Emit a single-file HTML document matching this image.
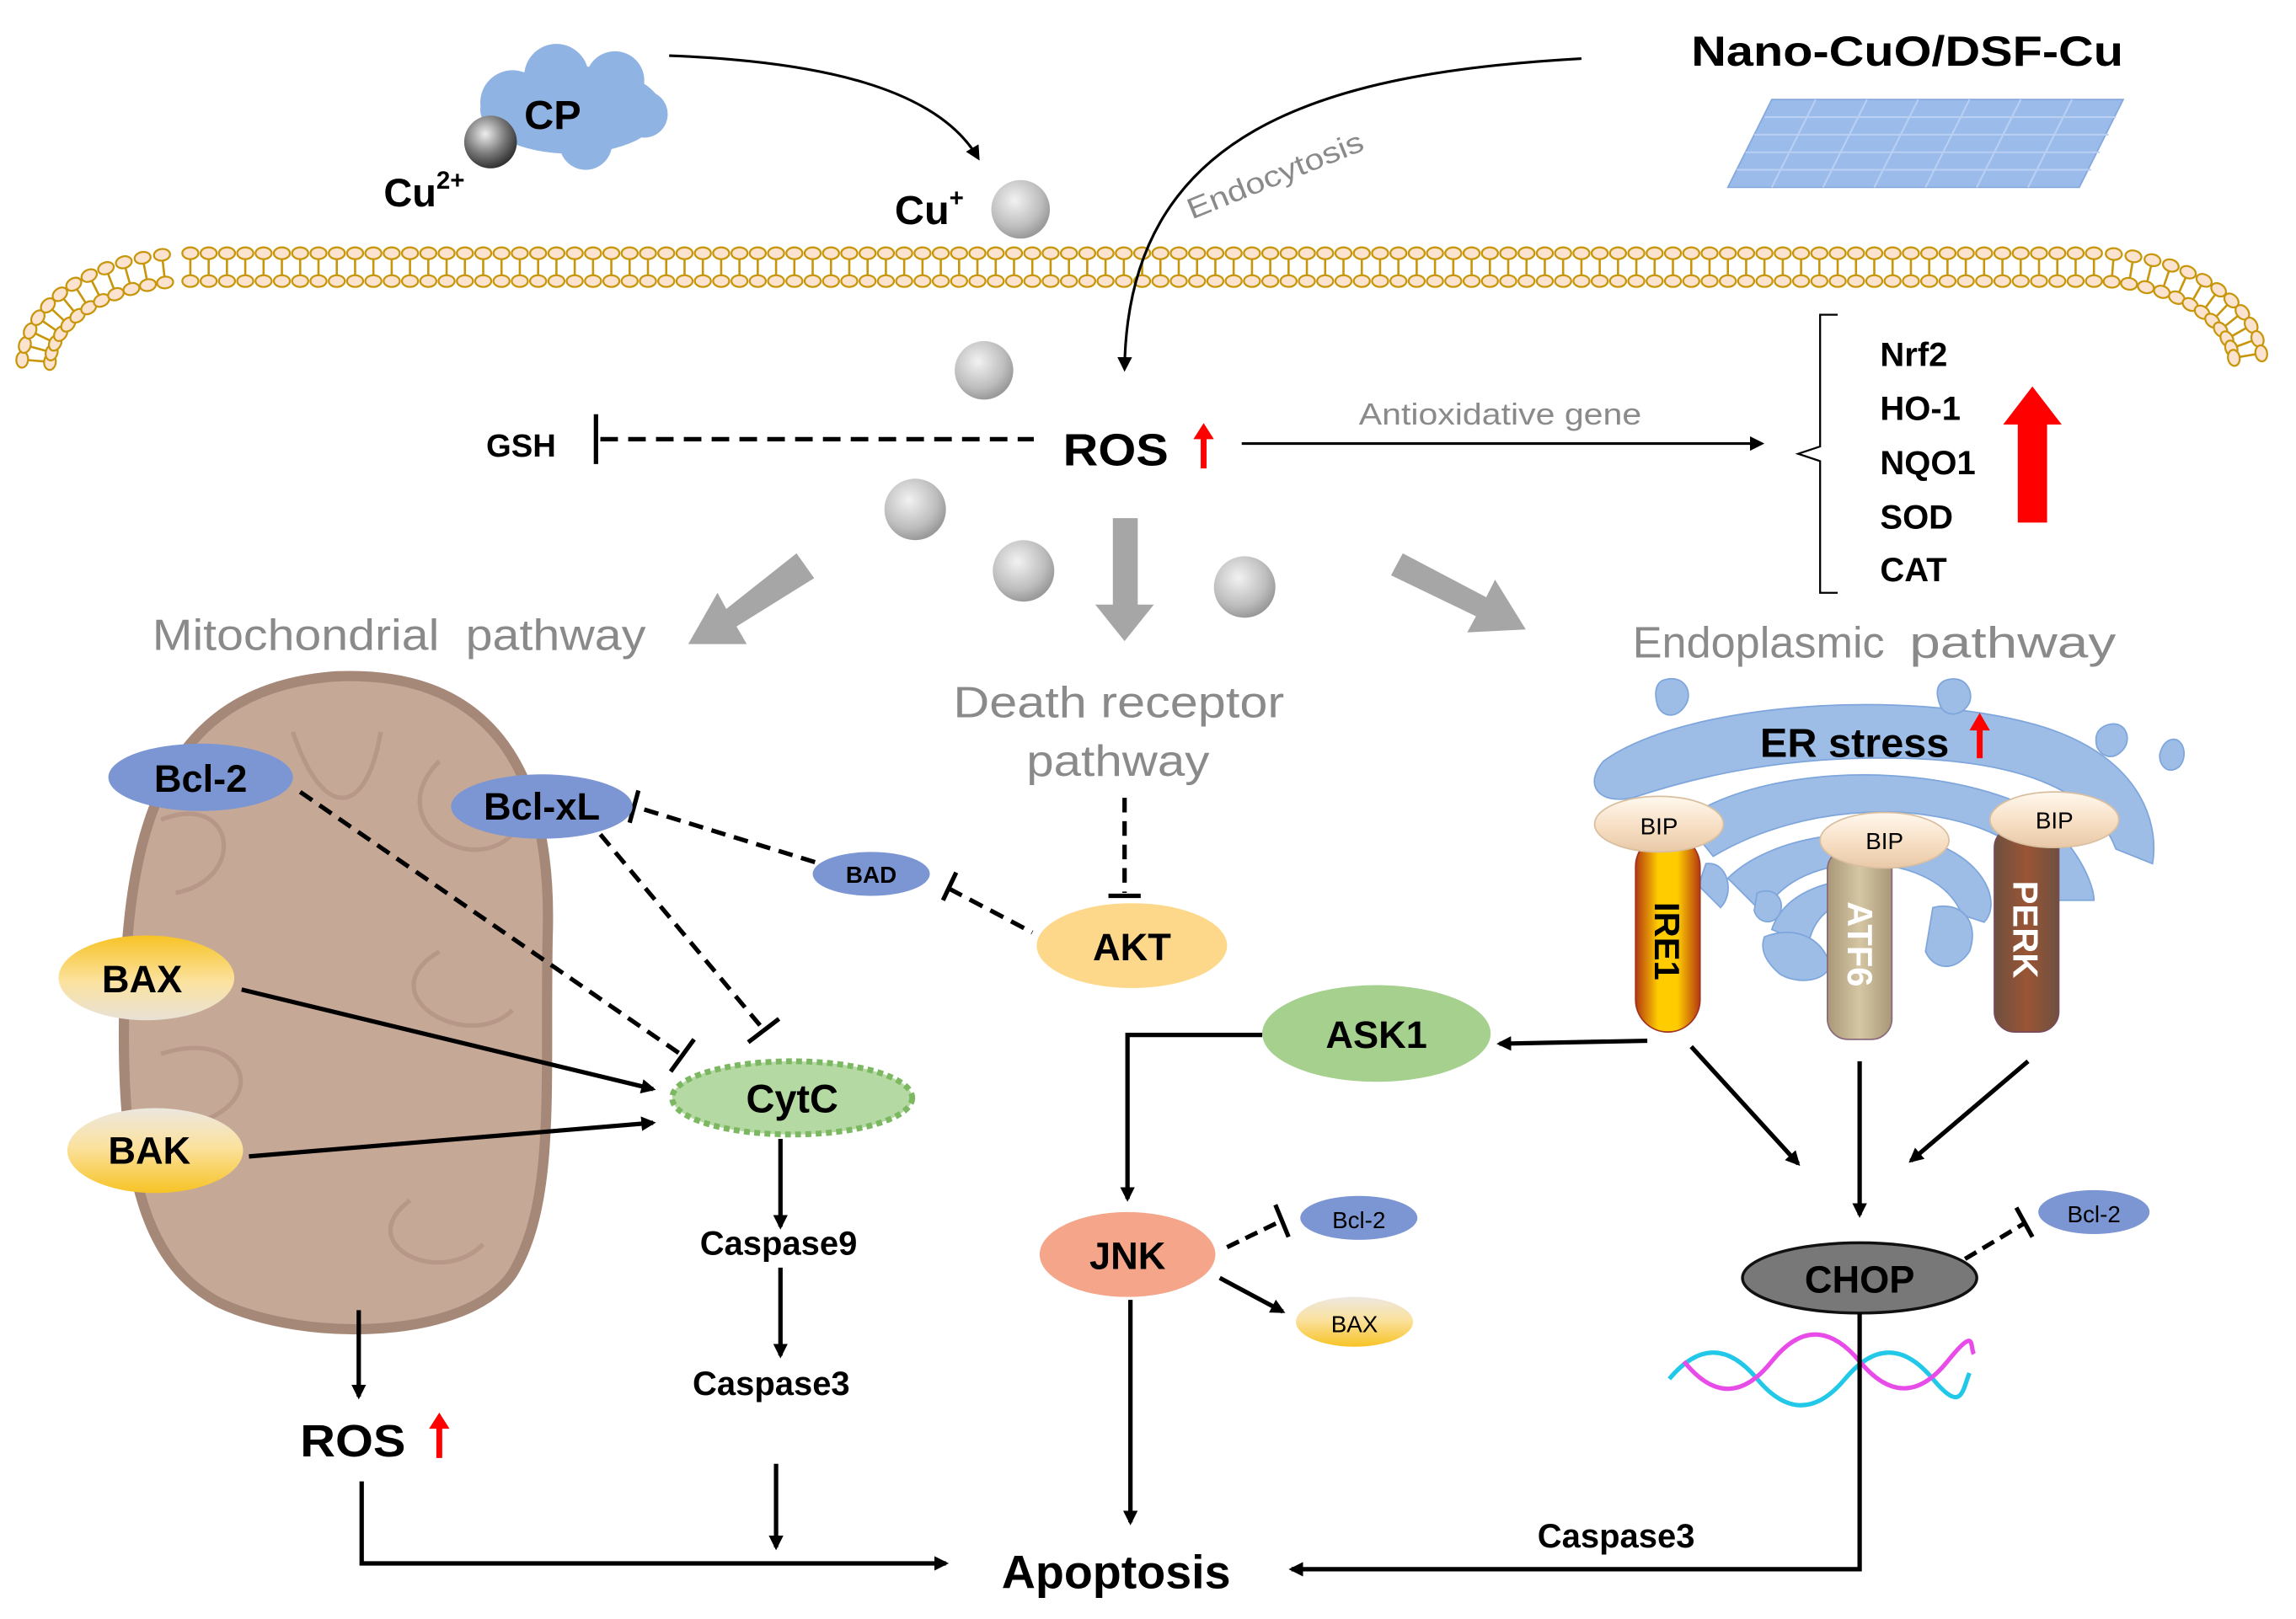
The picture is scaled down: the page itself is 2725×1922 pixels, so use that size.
<!DOCTYPE html>
<html><head><meta charset="utf-8"><style>
html,body{margin:0;padding:0;background:#fff;}
svg{display:block;}
text{font-family:"Liberation Sans",Arial,sans-serif;}
.b{font-weight:bold;fill:#000;}
.g{fill:#8a8a8a;}
</style></head><body>
<svg id="s" width="2725" height="1922" viewBox="0 0 1568 1106" preserveAspectRatio="none" xmlns="http://www.w3.org/2000/svg">
<defs>
<marker id="ah" markerWidth="10" markerHeight="10" refX="8" refY="5" orient="auto" markerUnits="userSpaceOnUse"><path d="M0,0 L10,5 L0,10 z" fill="#000"/></marker>
<radialGradient id="sph" cx="40%" cy="35%" r="65%"><stop offset="0" stop-color="#f2f2f2"/><stop offset="0.7" stop-color="#bdbdbd"/><stop offset="1" stop-color="#9a9a9a"/></radialGradient>
<radialGradient id="sph2" cx="40%" cy="35%" r="65%"><stop offset="0" stop-color="#eee"/><stop offset="0.6" stop-color="#777"/><stop offset="1" stop-color="#333"/></radialGradient>
<linearGradient id="yel" x1="0" y1="0" x2="0" y2="1"><stop offset="0" stop-color="#f7c325"/><stop offset="0.55" stop-color="#fbe2a0"/><stop offset="1" stop-color="#e8e1d6"/></linearGradient>
<linearGradient id="yel2" x1="0" y1="0" x2="0" y2="1"><stop offset="0" stop-color="#ece7df"/><stop offset="0.45" stop-color="#fbe2a0"/><stop offset="1" stop-color="#f7c325"/></linearGradient>
<linearGradient id="ire" x1="0" y1="0" x2="1" y2="0"><stop offset="0" stop-color="#b33a10"/><stop offset="0.35" stop-color="#ffcc00"/><stop offset="0.65" stop-color="#ffcc00"/><stop offset="1" stop-color="#b33a10"/></linearGradient>
<linearGradient id="atf" x1="0" y1="0" x2="1" y2="0"><stop offset="0" stop-color="#a89878"/><stop offset="0.5" stop-color="#d5c6a4"/><stop offset="1" stop-color="#a89878"/></linearGradient>
<linearGradient id="perk" x1="0" y1="0" x2="1" y2="0"><stop offset="0" stop-color="#6e5040"/><stop offset="0.5" stop-color="#9a5535"/><stop offset="1" stop-color="#6e5040"/></linearGradient>
<linearGradient id="bip" x1="0" y1="0" x2="0" y2="1"><stop offset="0" stop-color="#fff8ee"/><stop offset="0.6" stop-color="#f6dcc0"/><stop offset="1" stop-color="#e8c9a8"/></linearGradient>
</defs>
<g id="mem"></g>

<!-- CP cloud -->
<g fill="#8fb3e3">
<ellipse cx="390" cy="75" rx="62" ry="30"/><circle cx="350" cy="70" r="22"/><circle cx="380" cy="52" r="22"/><circle cx="420" cy="55" r="20"/><circle cx="440" cy="78" r="16"/><circle cx="400" cy="98" r="18"/>
</g>
<text x="358" y="88" class="b" font-size="28">CP</text>
<circle cx="335" cy="97" r="18" fill="url(#sph2)"/>
<text x="262" y="141" class="b" font-size="27">Cu<tspan font-size="17" dy="-12">2+</tspan></text>
<path d="M457,38 C560,42 640,60 668,108" fill="none" stroke="#000" stroke-width="1.8" marker-end="url(#ah)"/>
<text x="611" y="153" class="b" font-size="28">Cu<tspan font-size="17" dy="-12">+</tspan></text>
<circle cx="697" cy="143" r="20" fill="url(#sph)"/>
<text x="1155" y="45" class="b" font-size="29" textLength="295" lengthAdjust="spacingAndGlyphs">Nano-CuO/DSF-Cu</text>
<g fill="#8ab0e8" stroke="#6f98d8" stroke-width="1">
<path d="M1210,68 L1450,68 L1420,128 L1180,128 Z" opacity="0.85"/>
</g>
<g stroke="#b9d0f3" stroke-width="1.2" fill="none">
<path d="M1205,80 L1445,80 M1198,92 L1440,92 M1192,104 L1434,104 M1186,116 L1428,116"/>
<path d="M1240,68 L1210,128 M1275,68 L1245,128 M1310,68 L1280,128 M1345,68 L1315,128 M1380,68 L1350,128 M1415,68 L1385,128"/>
</g>
<path d="M1080,40 C900,50 770,90 768,252" fill="none" stroke="#000" stroke-width="1.8" marker-end="url(#ah)"/>
<text x="814" y="150" class="g" font-size="20" transform="rotate(-22 814 150)" textLength="128" lengthAdjust="spacingAndGlyphs">Endocytosis</text>

<circle cx="672" cy="253" r="20" fill="url(#sph)"/>
<circle cx="625" cy="348" r="21" fill="url(#sph)"/>
<circle cx="699" cy="390" r="21" fill="url(#sph)"/>
<circle cx="850" cy="401" r="21" fill="url(#sph)"/>

<text x="332" y="312" class="b" font-size="22">GSH</text>
<line x1="407" y1="283" x2="407" y2="317" stroke="#000" stroke-width="3"/>
<line x1="410" y1="300" x2="706" y2="300" stroke="#000" stroke-width="3" stroke-dasharray="12,7"/>
<text x="726" y="318" class="b" font-size="31" textLength="72" lengthAdjust="spacingAndGlyphs">ROS</text>
<path d="M822,320 L822,298" stroke="#f00" stroke-width="4"/><path d="M815,300 L822,289 L829,300 Z" fill="#f00"/>
<line x1="848" y1="303" x2="1203" y2="303" stroke="#000" stroke-width="1.8" marker-end="url(#ah)"/>
<text x="928" y="290" class="g" font-size="21" textLength="193" lengthAdjust="spacingAndGlyphs">Antioxidative gene</text>
<path d="M1255,215 L1243,215 L1243,305 L1228,310 L1243,315 L1243,405 L1255,405" fill="none" stroke="#000" stroke-width="1.3"/>
<g class="b" font-size="23"><text x="1284" y="250" class="b">Nrf2</text><text x="1284" y="287" class="b">HO-1</text><text x="1284" y="324" class="b">NQO1</text><text x="1284" y="361" class="b">SOD</text><text x="1284" y="397" class="b">CAT</text></g>
<path d="M1378,357 L1398,357 L1398,290 L1408,290 L1388,264 L1368,290 L1378,290 Z" fill="#f00"/>

<!-- big gray arrows -->
<g fill="#a6a6a6">
<path d="M544,378 L556,395 L503,428 L510,440 L470,440 L490,405 L496,416 Z"/>
<path d="M760,354 L777,354 L777,413 L788,413 L768,438 L748,413 L760,413 Z"/>
<path d="M950,393 L958,378 L1015,408 L1021,396 L1042,430 L1002,432 L1008,421 Z"/>
</g>
<text x="104" y="444" class="g" font-size="30" textLength="196" lengthAdjust="spacingAndGlyphs">Mitochondrial</text><text x="318" y="444" class="g" font-size="30" textLength="123" lengthAdjust="spacingAndGlyphs">pathway</text>
<text x="651" y="490" class="g" font-size="30" textLength="226" lengthAdjust="spacingAndGlyphs">Death receptor</text>
<text x="701" y="530" class="g" font-size="30" textLength="125" lengthAdjust="spacingAndGlyphs">pathway</text>
<text x="1115" y="449" class="g" font-size="30" textLength="172" lengthAdjust="spacingAndGlyphs">Endoplasmic</text><text x="1304" y="449" class="g" font-size="30" textLength="141" lengthAdjust="spacingAndGlyphs">pathway</text>

<!-- mitochondrion -->
<path d="M230,462 C330,458 378,520 374,640 C372,740 380,820 350,870 C320,915 210,918 150,890 C95,862 82,790 85,680 C88,570 110,470 230,462 Z" fill="#c6a897" stroke="#a58878" stroke-width="7"/>
<g fill="none" stroke="#b09080" stroke-width="3" opacity="0.7">
<path d="M110,560 C160,540 170,600 120,610 M110,720 C170,700 190,760 120,770 M300,520 C260,560 320,600 350,570 M300,650 C250,680 320,720 350,690 M280,820 C240,850 300,880 330,850 M200,500 C220,560 250,560 260,500"/>
</g>
<line x1="205" y1="541" x2="466" y2="721" stroke="#000" stroke-width="3" stroke-dasharray="10,6"/>
<line x1="458" y1="732" x2="474" y2="710" stroke="#000" stroke-width="3"/>
<line x1="410" y1="570" x2="522" y2="704" stroke="#000" stroke-width="3" stroke-dasharray="10,6"/>
<line x1="511" y1="712" x2="532" y2="696" stroke="#000" stroke-width="3"/>
<line x1="440" y1="553" x2="560" y2="590" stroke="#000" stroke-width="3" stroke-dasharray="10,6"/>
<line x1="436" y1="540" x2="430" y2="562" stroke="#000" stroke-width="3"/>
<line x1="648" y1="607" x2="705" y2="637" stroke="#000" stroke-width="3" stroke-dasharray="10,6"/>
<line x1="653" y1="596" x2="644" y2="615" stroke="#000" stroke-width="3"/>
<line x1="768" y1="545" x2="768" y2="610" stroke="#000" stroke-width="3" stroke-dasharray="10,6"/>
<line x1="757" y1="612" x2="779" y2="612" stroke="#000" stroke-width="3"/>
<line x1="165" y1="676" x2="446" y2="744" stroke="#000" stroke-width="3" marker-end="url(#ah)"/>
<line x1="170" y1="790" x2="446" y2="767" stroke="#000" stroke-width="3" marker-end="url(#ah)"/>

<ellipse cx="137" cy="531" rx="63" ry="23" fill="#7b96d3"/><text x="137" y="541" text-anchor="middle" class="b" font-size="26">Bcl-2</text>
<ellipse cx="370" cy="551" rx="62" ry="22" fill="#7b96d3"/><text x="370" y="560" text-anchor="middle" class="b" font-size="26">Bcl-xL</text>
<ellipse cx="100" cy="668" rx="60" ry="29" fill="url(#yel)"/><text x="97" y="678" text-anchor="middle" class="b" font-size="26">BAX</text>
<ellipse cx="106" cy="786" rx="60" ry="29" fill="url(#yel2)"/><text x="102" y="795" text-anchor="middle" class="b" font-size="26">BAK</text>
<ellipse cx="595" cy="597" rx="40" ry="15" fill="#7b96d3"/><text x="595" y="603" text-anchor="middle" class="b" font-size="16">BAD</text>
<ellipse cx="773" cy="646" rx="65" ry="29" fill="#fdd88a"/><text x="773" y="656" text-anchor="middle" class="b" font-size="26">AKT</text>
<ellipse cx="541" cy="750" rx="82" ry="25" fill="#b5d9a2" stroke="#7cb862" stroke-width="4" stroke-dasharray="4,3"/><text x="541" y="760" text-anchor="middle" class="b" font-size="27">CytC</text>

<line x1="533" y1="778" x2="533" y2="838" stroke="#000" stroke-width="3" marker-end="url(#ah)"/>
<text x="478" y="857" class="b" font-size="23">Caspase9</text>
<line x1="533" y1="866" x2="533" y2="926" stroke="#000" stroke-width="3" marker-end="url(#ah)"/>
<text x="473" y="953" class="b" font-size="23">Caspase3</text>
<line x1="530" y1="1000" x2="530" y2="1057" stroke="#000" stroke-width="3" marker-end="url(#ah)"/>
<line x1="245" y1="895" x2="245" y2="954" stroke="#000" stroke-width="3" marker-end="url(#ah)"/>
<text x="205" y="995" class="b" font-size="31" textLength="72" lengthAdjust="spacingAndGlyphs">ROS</text>
<path d="M300,996 L300,974" stroke="#f00" stroke-width="4"/><path d="M293,976 L300,965 L307,976 Z" fill="#f00"/>
<path d="M247,1012 L247,1068 L646,1068" fill="none" stroke="#000" stroke-width="3" marker-end="url(#ah)"/>
<text x="684" y="1085" class="b" font-size="32">Apoptosis</text>

<!-- ER -->
<g fill="#9dbde6" stroke="#7ea6dc" stroke-width="1">
<path d="M1095,520 C1150,480 1300,470 1390,495 C1460,515 1475,560 1470,590 L1445,580 C1430,540 1380,520 1300,518 C1220,516 1160,530 1115,545 C1090,550 1082,535 1095,520 Z"/>
<path d="M1150,560 C1200,525 1300,520 1370,545 C1410,560 1430,600 1430,615 L1405,615 C1390,580 1360,560 1300,555 C1240,552 1195,570 1170,585 Z"/>
<path d="M1180,600 C1210,570 1280,560 1330,580 C1360,595 1365,620 1355,630 L1340,625 C1330,600 1300,590 1270,590 C1230,592 1210,610 1205,625 Z"/>
<path d="M1210,635 C1220,605 1260,598 1290,600 L1285,615 C1260,612 1240,620 1235,645 Z"/>
<path d="M1135,465 C1148,460 1156,470 1152,480 C1146,492 1135,490 1132,482 C1130,475 1130,468 1135,465 Z"/>
<path d="M1328,465 C1342,460 1348,472 1345,480 C1340,490 1328,490 1325,482 C1322,474 1322,468 1328,465 Z"/>
<path d="M1440,495 C1452,492 1456,505 1450,512 C1443,520 1435,517 1432,510 C1430,502 1433,497 1440,495 Z"/>
<path d="M1485,505 C1492,506 1494,518 1488,524 C1480,530 1474,522 1475,515 C1477,508 1480,505 1485,505 Z"/>
<path d="M1165,590 C1180,588 1185,610 1175,620 L1160,605 Z"/>
<path d="M1200,610 C1212,605 1220,615 1215,625 C1210,633 1200,630 1198,622 Z"/>
<path d="M1205,640 C1225,632 1245,640 1250,660 C1245,672 1225,672 1215,665 C1205,656 1202,648 1205,640 Z"/>
<path d="M1320,620 C1340,615 1352,630 1345,650 C1335,665 1320,662 1315,650 Z"/>
</g>
<text x="1202" y="517" class="b" font-size="28">ER stress</text>
<path d="M1352,518 L1352,497" stroke="#f00" stroke-width="4"/><path d="M1345,499 L1352,487 L1359,499 Z" fill="#f00"/>

<rect x="1117" y="570" width="44" height="135" rx="22" fill="url(#ire)" stroke="#a03020"/>
<rect x="1248" y="580" width="44" height="130" rx="14" fill="url(#atf)" stroke="#8a6a7a"/>
<rect x="1362" y="565" width="44" height="140" rx="14" fill="url(#perk)" stroke="#7a4a5a"/>
<text x="1130" y="643" class="b" font-size="24" transform="rotate(90 1130 643)" text-anchor="middle">IRE1</text>
<text x="1262" y="645" font-weight="bold" fill="#fff" font-size="24" transform="rotate(90 1262 645)" text-anchor="middle">ATF6</text>
<text x="1375" y="635" font-weight="bold" fill="#fff" font-size="24" transform="rotate(90 1375 635)" text-anchor="middle">PERK</text>
<ellipse cx="1133" cy="563" rx="44" ry="19" fill="url(#bip)" stroke="#d9bfa0"/><text x="1133" y="570" text-anchor="middle" font-size="16" fill="#000">BIP</text>
<ellipse cx="1287" cy="574" rx="44" ry="19" fill="url(#bip)" stroke="#d9bfa0"/><text x="1287" y="580" text-anchor="middle" font-size="16" fill="#000">BIP</text>
<ellipse cx="1403" cy="560" rx="44" ry="19" fill="url(#bip)" stroke="#d9bfa0"/><text x="1403" y="566" text-anchor="middle" font-size="16" fill="#000">BIP</text>

<line x1="1125" y1="711" x2="1024" y2="713" stroke="#000" stroke-width="3" marker-end="url(#ah)"/>
<ellipse cx="940" cy="706" rx="78" ry="33" fill="#a5d08d"/><text x="940" y="716" text-anchor="middle" class="b" font-size="26">ASK1</text>
<path d="M862,707 L770,707 L770,819" fill="none" stroke="#000" stroke-width="3" marker-end="url(#ah)"/>
<ellipse cx="770" cy="857" rx="60" ry="29" fill="#f4a58a"/><text x="770" y="867" text-anchor="middle" class="b" font-size="26">JNK</text>
<line x1="838" y1="852" x2="875" y2="834" stroke="#000" stroke-width="3" stroke-dasharray="9,5"/>
<line x1="871" y1="823" x2="880" y2="845" stroke="#000" stroke-width="3"/>
<ellipse cx="928" cy="832" rx="40" ry="15" fill="#7b96d3"/><text x="928" y="839" text-anchor="middle" font-size="16" fill="#000">Bcl-2</text>
<line x1="833" y1="873" x2="876" y2="896" stroke="#000" stroke-width="3" marker-end="url(#ah)"/>
<ellipse cx="925" cy="903" rx="40" ry="17" fill="url(#yel2)"/><text x="925" y="910" text-anchor="middle" font-size="16" fill="#000">BAX</text>
<line x1="772" y1="888" x2="772" y2="1040" stroke="#000" stroke-width="3" marker-end="url(#ah)"/>

<line x1="1155" y1="715" x2="1228" y2="795" stroke="#000" stroke-width="3" marker-end="url(#ah)"/>
<line x1="1270" y1="725" x2="1270" y2="830" stroke="#000" stroke-width="3" marker-end="url(#ah)"/>
<line x1="1385" y1="725" x2="1305" y2="793" stroke="#000" stroke-width="3" marker-end="url(#ah)"/>
<ellipse cx="1270" cy="873" rx="80" ry="24" fill="#787878" stroke="#111" stroke-width="2"/><text x="1270" y="883" text-anchor="middle" class="b" font-size="26">CHOP</text>
<line x1="1342" y1="860" x2="1382" y2="836" stroke="#000" stroke-width="3" stroke-dasharray="9,5"/>
<line x1="1377" y1="825" x2="1388" y2="845" stroke="#000" stroke-width="3"/>
<ellipse cx="1430" cy="828" rx="38" ry="15" fill="#7b96d3"/><text x="1430" y="835" text-anchor="middle" font-size="16" fill="#000">Bcl-2</text>
<path d="M1140,942 C1160,918 1180,918 1200,942 S1240,966 1260,942 S1300,918 1320,942 S1340,950 1345,938" fill="none" stroke="#22c8e8" stroke-width="3"/>
<path d="M1150,930 C1170,955 1190,955 1210,930 S1250,906 1270,930 S1310,955 1330,930 S1345,920 1348,925" fill="none" stroke="#e84ce8" stroke-width="3"/>
<path d="M1270,897 L1270,1072 L882,1072" fill="none" stroke="#000" stroke-width="3" marker-end="url(#ah)"/>
<text x="1050" y="1057" class="b" font-size="23">Caspase3</text>
</svg>
<script>
(function(){
var g=document.getElementById('mem'),out='';
var pts=[];
function add(x,y,a){pts.push([x,y,a]);}
var RX=105,RY=67;
function arc(cx,cy,a0,a1,stepDeg){
 for(var ang=a0;ang<=a1;ang+=stepDeg){
  var r=ang*Math.PI/180;
  var x=cx+RX*Math.cos(r),y=cy+RY*Math.sin(r);
  var nx=Math.cos(r)/RX,ny=Math.sin(r)/RY,l=Math.sqrt(nx*nx+ny*ny);
  add(x,y,Math.atan2(ny/l,nx/l));
 }
}
arc(130,250,183,263,7);
var x;
for(x=130;x<=1440;x+=12.5){add(x,183,-Math.PI/2);}
var last=x-12.5;
arc(last,250,277,358,7);
pts.forEach(function(p){
 var nx=Math.cos(p[2]),ny=Math.sin(p[2]);
 var cx1=p[0]+nx*10,cy1=p[1]+ny*10,cx2=p[0]-nx*9,cy2=p[1]-ny*9;
 var deg=p[2]*180/Math.PI+90;
 out+='<line x1="'+(p[0]+nx*6)+'" y1="'+(p[1]+ny*6)+'" x2="'+(p[0]-nx*5)+'" y2="'+(p[1]-ny*5)+'" stroke="#c8960a" stroke-width="1.5"/>';
 out+='<ellipse cx="'+cx1+'" cy="'+cy1+'" rx="5.5" ry="4" transform="rotate('+deg+' '+cx1+' '+cy1+')" fill="#fbe3d0" stroke="#c8960a" stroke-width="1.3"/>';
 out+='<ellipse cx="'+cx2+'" cy="'+cy2+'" rx="5.5" ry="4" transform="rotate('+deg+' '+cx2+' '+cy2+')" fill="#fbe3d0" stroke="#c8960a" stroke-width="1.3"/>';
});
g.innerHTML=out;
})();
</script>
</body></html>
